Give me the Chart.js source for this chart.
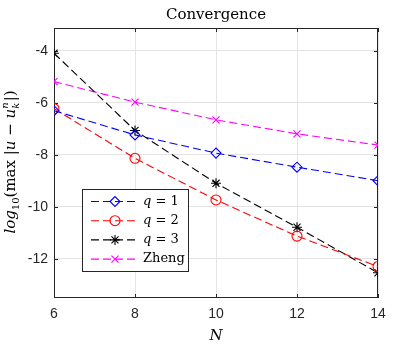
<!DOCTYPE html>
<html>
<head>
<meta charset="utf-8">
<script src="https://cdn.jsdelivr.net/npm/chart.js@4.4.0/dist/chart.umd.min.js"></script>
<style>
  html, body { margin: 0; background: #fff; }
  #wrap { width: 417px; height: 348px; }
</style>
</head>
<body>
<div id="wrap"><canvas id="conv" width="417" height="348"></canvas></div>
<script>
// === convergence plot ===
const nValues = [6, 8, 10, 12, 14];
const q1Err = [-6.30, -7.23, -7.93, -8.47, -8.99];
const q2Err = [-6.22, -8.13, -9.73, -11.12, -12.29];
const q3Err = [-4.09, -7.06, -9.09, -10.78, -12.53];
const zhengErr = [-5.18, -5.97, -6.65, -7.19, -7.62];
const xTicks = [6, 8, 10, 12, 14];
const yTicks = [-12, -10, -8, -6, -4];
const seriesNames = ["q = 1", "q = 2", "q = 3", "Zheng"];

const SERIF = "'DejaVu Serif', serif";
const AXIS = "#262626";
const DASH = [8, 4];

function series(name, values, color, style) {
  return {
    label: name,
    data: values.map((v, i) => ({ x: nValues[i], y: v })),
    borderColor: color,
    backgroundColor: "rgba(0,0,0,0)",
    borderWidth: 1.1,
    borderDash: DASH,
    pointStyle: style,
    pointRadius: 5,
    pointHoverRadius: 5,
    pointBorderColor: color,
    pointBackgroundColor: "rgba(0,0,0,0)",
    pointBorderWidth: 1.1,
    tension: 0,
  };
}

// draws a row of text pieces with their own font and vertical shift
function drawPieces(ctx, pieces, x, y) {
  let cx = x;
  pieces.forEach(p => {
    ctx.font = p.font;
    ctx.fillText(p.t, cx, y + (p.dy || 0));
    cx += ctx.measureText(p.t).width;
  });
}
function piecesWidth(ctx, pieces) {
  return pieces.reduce((w, p) => { ctx.font = p.font; return w + ctx.measureText(p.t).width; }, 0);
}

const decorations = {
  id: "decorations",
  beforeDatasetsDraw(chart) {
    const { ctx, chartArea: a, scales } = chart;
    ctx.save();
    ctx.strokeStyle = AXIS;
    ctx.lineWidth = 1;
    ctx.strokeRect(a.left + 0.5, a.top + 0.5, a.right - a.left - 1, a.bottom - a.top - 1);
    // inward ticks on all four sides
    ctx.beginPath();
    xTicks.forEach(v => {
      const px = Math.round(scales.x.getPixelForValue(v)) + 0.5;
      ctx.moveTo(px, a.bottom); ctx.lineTo(px, a.bottom - 4);
      ctx.moveTo(px, a.top); ctx.lineTo(px, a.top + 4);
    });
    yTicks.forEach(v => {
      const py = Math.round(scales.y.getPixelForValue(v)) + 0.5;
      ctx.moveTo(a.left, py); ctx.lineTo(a.left + 4, py);
      ctx.moveTo(a.right, py); ctx.lineTo(a.right - 4, py);
    });
    ctx.stroke();
    ctx.restore();
  },
  afterDraw(chart) {
    const { ctx, chartArea: a } = chart;
    ctx.save();
    ctx.fillStyle = "#000";
    ctx.textBaseline = "alphabetic";
    // title
    ctx.font = "15px " + SERIF;
    ctx.textAlign = "center";
    ctx.fillText("Convergence", (a.left + a.right) / 2, 19);
    // x label
    ctx.font = "italic 15px " + SERIF;
    ctx.fillText("N", (a.left + a.right) / 2, 340);
    // y label
    ctx.textAlign = "left";
    const big = "15px " + SERIF, bigI = "italic 15px " + SERIF;
    const sm = "10px " + SERIF, smI = "italic 10px " + SERIF;
    const yl = [
      { t: "log", font: bigI }, { t: "10", font: sm, dy: 4 },
      { t: "(max", font: big }, { t: " |", font: big }, { t: "u", font: bigI },
      { t: " \u2212 ", font: big }, { t: "u", font: bigI },
    ];
    ctx.translate(15, 162);
    ctx.rotate(-Math.PI / 2);
    const tail = [{ t: "|)", font: big }];
    ctx.font = smI;
    const supW = ctx.measureText("n").width + 1;
    const total = piecesWidth(ctx, yl) + supW + piecesWidth(ctx, tail);
    let sx = -total / 2;
    drawPieces(ctx, yl, sx, 0);
    sx += piecesWidth(ctx, yl);
    ctx.font = smI;
    ctx.fillText("n", sx, -7);
    ctx.fillText("k", sx, 4);
    drawPieces(ctx, tail, sx + supW, 0);
    ctx.restore();

    // legend box inside the axes
    const box = { left: 82.5, top: 189.5, w: 106, h: 82 };
    ctx.save();
    ctx.fillStyle = "#fff";
    ctx.fillRect(box.left, box.top, box.w, box.h);
    ctx.strokeStyle = AXIS;
    ctx.lineWidth = 1;
    ctx.strokeRect(box.left, box.top, box.w, box.h);
    chart.data.datasets.forEach((ds, i) => {
      const y = 201.5 + i * 19.2;
      ctx.strokeStyle = ds.borderColor;
      ctx.lineWidth = 1.1;
      ctx.setLineDash(DASH);
      ctx.beginPath();
      ctx.moveTo(91, y); ctx.lineTo(138, y);
      ctx.stroke();
      ctx.setLineDash([]);
      ctx.fillStyle = "rgba(0,0,0,0)";
      Chart.helpers.drawPoint(ctx, { pointStyle: ds.pointStyle, radius: 5, borderWidth: 1.1 }, 115, y);
      ctx.fillStyle = "#000";
      ctx.textBaseline = "middle";
      const name = ds.label;
      if (name.startsWith("q")) {
        drawPieces(ctx, [{ t: "q", font: "italic 13px " + SERIF }, { t: name.slice(1), font: "13px " + SERIF }], 143, y);
      } else {
        drawPieces(ctx, [{ t: name, font: "13px " + SERIF }], 143, y);
      }
    });
    ctx.restore();
  },
};

new Chart(document.getElementById("conv"), {
  type: "line",
  data: {
    datasets: [
      series(seriesNames[0], q1Err, "#0000ff", "rectRot"),
      series(seriesNames[1], q2Err, "#ff0000", "circle"),
      series(seriesNames[2], q3Err, "#000000", "star"),
      series(seriesNames[3], zhengErr, "#ff00ff", "crossRot"),
    ],
  },
  options: {
    responsive: false,
    animation: false,
    layout: { padding: { left: 0, top: 28, right: 39, bottom: 0 } },
    plugins: { legend: { display: false }, title: { display: false }, tooltip: { enabled: false } },
    scales: {
      x: {
        type: "linear", min: 6, max: 14,
        afterBuildTicks: s => { s.ticks = xTicks.map(v => ({ value: v })); },
        afterFit: s => { s.height = 50; },
        grid: { color: "#e4e4e4", drawTicks: false },
        border: { display: false },
        ticks: { padding: 8, color: "#262626", font: { family: "'Liberation Sans', sans-serif", size: 14 } },
      },
      y: {
        type: "linear", min: -13.5, max: -3.12,
        afterBuildTicks: s => { s.ticks = yTicks.map(v => ({ value: v })); },
        afterFit: s => { s.width = 54; },
        grid: { color: "#e4e4e4", drawTicks: false },
        border: { display: false },
        ticks: { padding: 6, color: "#262626", font: { family: "'Liberation Sans', sans-serif", size: 14 } },
      },
    },
  },
  plugins: [decorations],
});
</script>
</body>
</html>
